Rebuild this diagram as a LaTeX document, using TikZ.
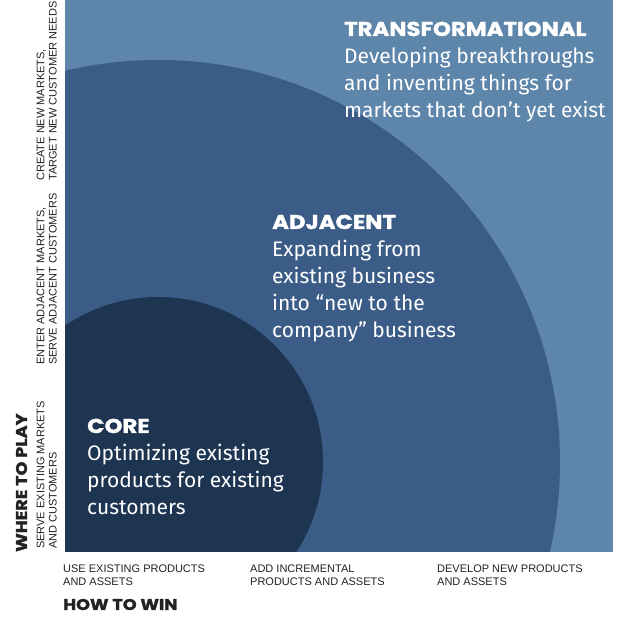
\documentclass[tikz,border=0pt]{standalone}
\usepackage{fontspec}
\setmainfont{Fira Sans}
\newfontfamily\axisfont{Liberation Sans}
\newfontfamily\heavyfont{Poppins}[BoldFeatures={FakeBold=1.6,FakeStretch=1.14}]
\usepackage{tikz}
\usetikzlibrary{positioning}
\definecolor{outerblue}{RGB}{94,133,170}
\definecolor{midblue}{RGB}{59,92,135}
\definecolor{coreblue}{RGB}{30,53,82}
\definecolor{labelgray}{RGB}{34,34,34}

\begin{document}
\begin{tikzpicture}[x=1pt,y=1pt]
\tikzset{title/.style={font=\heavyfont\bfseries\fontsize{20}{24}\selectfont, text=white, inner sep=0pt, anchor=base west}}
\tikzset{blurb/.style={font=\fontsize{21}{26.7}\selectfont, text=white, inner sep=0pt, align=left}}
\tikzstyle{axislabel}=[font=\axisfont\fontsize{11}{12.3}\selectfont, text=labelgray, inner sep=0pt, align=left]
\tikzstyle{axistitle}=[font=\heavyfont\bfseries\fontsize{15.5}{18}\selectfont, text=labelgray, inner sep=0pt, anchor=base west]

\useasboundingbox (0,0) rectangle (620,623);

\coordinate (sw) at (65,71);
\coordinate (ne) at (613,623);
\coordinate (c) at (158,161);

\fill[outerblue] (sw) rectangle (ne);
\begin{scope}
\clip (sw) rectangle (ne);
\fill[midblue] (c) circle[radius=402];
\fill[coreblue] (c) circle[radius=165];
\end{scope}

\node[title](transH) at (344,587){TRANSFORMATIONAL};
\node[blurb, below right=11pt and 0pt of transH.south west](transB){Developing breakthroughs\\and inventing things for\\markets that don’t yet exist};

\node[title](adjH) at (272,394){ADJACENT};
\node[blurb, below right=11pt and 0pt of adjH.south west](adjB){Expanding from\\existing business\\into “new to the\\company” business};

\node[title](coreH) at (87,190){CORE};
\node[blurb, below right=11pt and 0pt of coreH.south west](coreB){Optimizing existing\\products for existing\\customers};

\node[axislabel, rotate=90, anchor=south west](rowA) at (57,74){SERVE EXISTING MARKETS\\AND CUSTOMERS};
\node[axislabel, rotate=90, anchor=south west](rowB) at (57,258){ENTER ADJACENT MARKETS,\\SERVE ADJACENT CUSTOMERS};
\node[axislabel, rotate=90, anchor=south west](rowC) at (57,442){CREATE NEW MARKETS,\\TARGET NEW CUSTOMER NEEDS};
\node[axistitle, rotate=90](playT) at (27,71){WHERE TO PLAY};

\node[axislabel, anchor=north west](colA) at (63,58){USE EXISTING PRODUCTS\\AND ASSETS};
\node[axislabel, anchor=north west](colB) at (250,58){ADD INCREMENTAL\\PRODUCTS AND ASSETS};
\node[axislabel, anchor=north west](colC) at (437,58){DEVELOP NEW PRODUCTS\\AND ASSETS};
\node[axistitle](winT) at (63,13){HOW TO WIN};
\end{tikzpicture}
\end{document}
